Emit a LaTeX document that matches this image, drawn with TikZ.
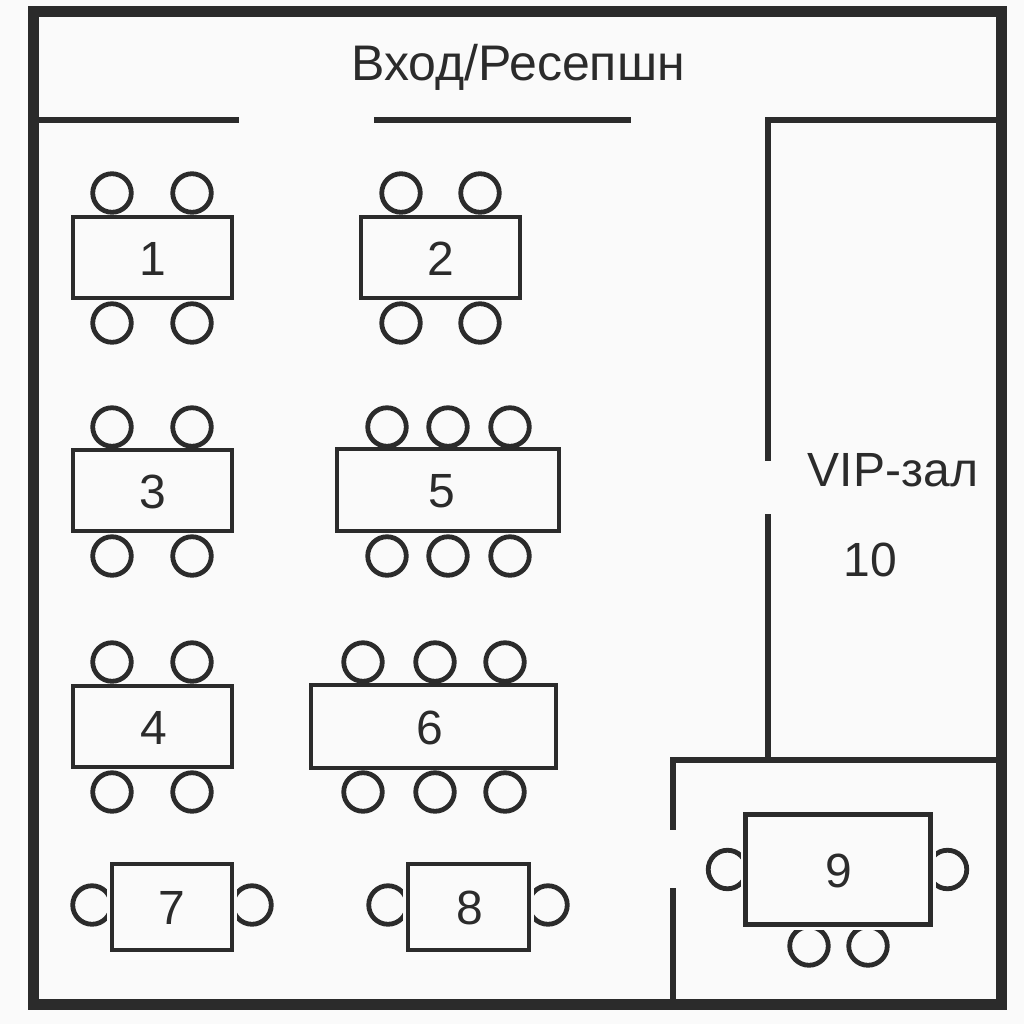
\documentclass[tikz,border=0pt]{standalone}
\usepackage{fontspec}
\setmainfont{Liberation Sans}
\definecolor{ink}{HTML}{2B2B2B}
\definecolor{bg}{HTML}{FAFAFA}
\tikzset{
 wall/.style={draw=ink,line width=4.2pt},
 outer/.style={draw=ink,line width=8.25pt},
 tbl/.style={draw=ink,line width=3.6pt,fill=bg,rectangle,inner sep=0pt,outer sep=0pt,anchor=north west},
 halo/.style={preaction={draw=bg,line width=7.5pt}},
 chair/.style={draw=ink,line width=3.6pt,circle,inner sep=0pt,outer sep=0pt,minimum size=28.9pt},
 lab/.style={text=ink,font=\fontsize{36}{40}\selectfont,inner sep=0pt},
 biglab/.style={lab,font=\fontsize{37.5}{40}\selectfont},
}
\newcommand{\tb}[8][]{\node[tbl,#1,minimum width=#5*0.75pt,minimum height=#6*0.75pt] (#2) at (#3,#4) {};\node[lab,xshift=#8*0.75pt,yshift=-0.75pt] (l#2) at (#2.center) {#7};}
\begin{document}
\begin{tikzpicture}[x=1pt*0.75,y=-1pt*0.75]
\useasboundingbox[fill=bg] (0,0) rectangle (1024,1024);
\draw[outer] (33.5,11.5) rectangle (1001.5,1004.5);
\coordinate (w1a) at (38,120); \coordinate (w1b) at (239,120);
\coordinate (w2a) at (374,120); \coordinate (w2b) at (631,120);
\draw[wall] (w1a)--(w1b);
\draw[wall] (w2a)--(w2b);
\draw[wall] (997,120)--(768,120)--(768,461);
\draw[wall] (768,514)--(768,760);
\draw[wall] (997,760)--(673,760)--(673,830);
\draw[wall] (673,888)--(673,1000);
\node[biglab] (title) at (518,67) {Вход/Ресепшн};
\node[lab] (vip) at (893,470) {VIP-зал};
\node[lab] (t10) at (870,560) {10};
% chairs
\foreach \x/\y [count=\i] in {112/193,192/193,112/323,192/323,401/193,480/193,401/323,480/323,
 112/427,192/427,112/556,192/556,387/427,448/427,510/427,387/556,448/556,510/556,
 112/662,192/662,112/792,192/792,363/662,435/662,505/662,363/792,435/792,505/792,
 92/905,252/905,388/905,548/905,727.5/869.5,947.5/869.5,809/946,868/946}
 \node[chair] (c\i) at (\x,\y) {};
% tables
\tb{a}{73}{217}{159}{81}{1}{0}
\tb{b}{361}{217}{159}{81}{2}{0}
\tb{c}{73}{450}{159}{81}{3}{0}
\tb{d}{73}{686}{159}{81}{4}{1}
\tb{e}{337}{449}{222}{82}{5}{-6}
\tb{f}{311}{685}{245}{83}{6}{-4}
\tb[halo]{g}{112}{864}{120}{86}{7}{0}
\tb[halo]{h}{408}{864}{121}{86}{8}{1}
\tb[halo]{i}{745.5}{814.5}{185}{110}{9}{1}
\end{tikzpicture}
\end{document}
